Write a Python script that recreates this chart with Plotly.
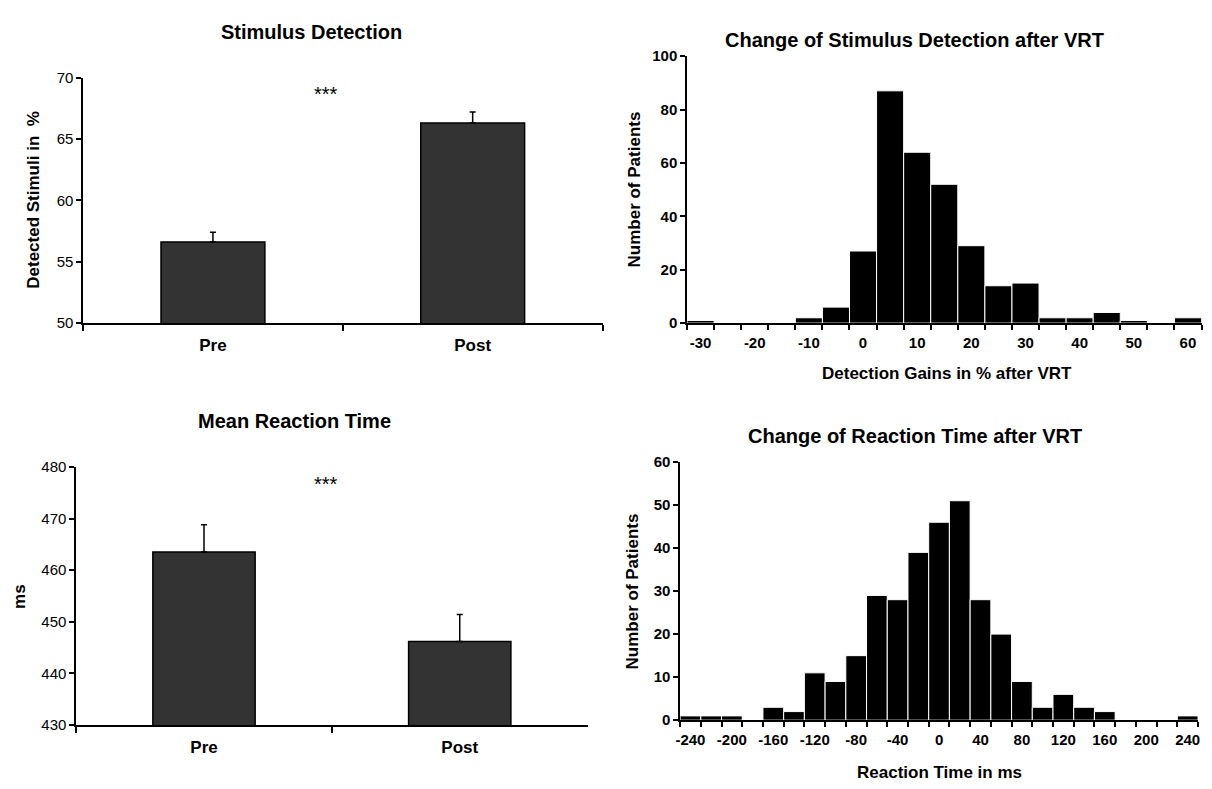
import plotly.graph_objects as go

# page body has an 8px default margin; the figure sits inside it
PAD = 8
W, H = 1212 - 2 * PAD, 789 - 2 * PAD

# ---- data ----
groups = ["Pre", "Post"]
detect_mean = [56.6, 66.3]
detect_err = [0.8, 0.9]
rt_mean = [463.5, 446.2]
rt_err = [5.3, 5.2]

gain_bins = [-30, -25, -20, -15, -10, -5, 0, 5, 10, 15, 20, 25, 30, 35, 40, 45, 50, 55, 60]
gain_counts = [1, 0, 0, 0, 2, 6, 27, 87, 64, 52, 29, 14, 15, 2, 2, 4, 1, 0, 2]
gain_ticks = [-30, -20, -10, 0, 10, 20, 30, 40, 50, 60]

rt_bins = [-240, -220, -200, -180, -160, -140, -120, -100, -80, -60, -40, -20, 0,
           20, 40, 60, 80, 100, 120, 140, 160, 180, 200, 220, 240]
rt_counts = [1, 1, 1, 0, 3, 2, 11, 9, 15, 29, 28, 39, 46, 51, 28, 20, 9, 3, 6, 3, 2, 0, 0, 0, 1]
rt_ticks = [-240, -200, -160, -120, -80, -40, 0, 40, 80, 120, 160, 200, 240]

FONT = "Liberation Sans, Arial, sans-serif"


def fx(p):
    return min(max((p - PAD) / W, 0.0), 1.0)


def fy(p):
    return min(max(1 - (p - PAD) / H, 0.0), 1.0)


fig = go.Figure()

fig.add_trace(go.Bar(
    x=groups, y=detect_mean, width=0.4,
    marker=dict(color="#333333", line=dict(color="black", width=1.5)),
    error_y=dict(type="data", symmetric=False, array=detect_err, arrayminus=[0, 0],
                 color="black", thickness=1.5, width=3),
    xaxis="x", yaxis="y", showlegend=False))

fig.add_trace(go.Bar(
    x=groups, y=rt_mean, width=0.4,
    marker=dict(color="#333333", line=dict(color="black", width=1.5)),
    error_y=dict(type="data", symmetric=False, array=rt_err, arrayminus=[0, 0],
                 color="black", thickness=1.5, width=3),
    xaxis="x2", yaxis="y2", showlegend=False))

fig.add_trace(go.Bar(
    x=gain_bins, y=gain_counts, width=5,
    marker=dict(color="black", line=dict(color="white", width=1)),
    xaxis="x3", yaxis="y3", showlegend=False))

fig.add_trace(go.Bar(
    x=rt_bins, y=rt_counts, width=20,
    marker=dict(color="black", line=dict(color="white", width=1)),
    xaxis="x4", yaxis="y4", showlegend=False))

axis_common = dict(showgrid=False, zeroline=False, showline=True, linecolor="black",
                   linewidth=1.5, ticks="outside", tickcolor="black", tickwidth=1.5)

reg_tick = dict(family=FONT, size=15, color="black")
bold_tick = dict(family=FONT, size=15, color="black", weight="bold")
bold_cat = dict(family=FONT, size=17, color="black", weight="bold")

fig.update_layout(
    width=W, height=H,
    margin=dict(l=0, r=0, t=0, b=0),
    paper_bgcolor="white", plot_bgcolor="white",
    barmode="overlay",
    font=dict(family=FONT, color="black"),
    xaxis=dict(domain=[fx(78.5), fx(601)], anchor="y", type="category",
               range=[-0.5, 1.5], tickson="boundaries", ticklen=6,
               tickfont=bold_cat, ticklabelstandoff=6, **axis_common),
    yaxis=dict(domain=[fy(321), fy(70)], anchor="x", range=[50, 70], dtick=5,
               tick0=50, ticklen=5, tickfont=reg_tick, **axis_common),
    xaxis2=dict(domain=[fx(71.5), fx(586)], anchor="y2", type="category",
                range=[-0.5, 1.5], tickson="boundaries", ticklen=6,
                tickfont=bold_cat, ticklabelstandoff=6, **axis_common),
    yaxis2=dict(domain=[fy(732), fy(468)], anchor="x2", range=[430, 480], dtick=10,
                tick0=430, ticklen=5, tickfont=reg_tick, **axis_common),
    xaxis3=dict(domain=[fx(686), fx(1203.5)], anchor="y3", range=[-32.5, 62.5],
                tickmode="array", tickvals=gain_ticks, ticktext=[str(v) for v in gain_ticks],
                ticklen=5, tickfont=bold_tick,
                minor=dict(tickmode="linear", tick0=-32.5, dtick=5, ticks="outside",
                           ticklen=5, tickcolor="black", tickwidth=1.5),
                **{**axis_common, "tickcolor": "rgba(0,0,0,0)"}),
    yaxis3=dict(domain=[fy(321), fy(48)], anchor="x3", range=[0, 100], dtick=20,
                ticklen=5, tickfont=bold_tick, **axis_common),
    xaxis4=dict(domain=[fx(679), fx(1200)], anchor="y4", range=[-250, 250],
                tickmode="array", tickvals=rt_ticks, ticktext=[str(v) for v in rt_ticks],
                ticklen=5, tickfont=bold_tick,
                minor=dict(tickmode="linear", tick0=-250, dtick=20, ticks="outside",
                           ticklen=5, tickcolor="black", tickwidth=1.5),
                **{**axis_common, "tickcolor": "rgba(0,0,0,0)"}),
    yaxis4=dict(domain=[fy(727), fy(463)], anchor="x4", range=[0, 60], dtick=10,
                ticklen=5, tickfont=bold_tick, **axis_common),
)

TITLE = dict(family=FONT, size=20, color="black", weight="bold")
AXT = dict(family=FONT, size=17, color="black", weight="bold")
STAR = dict(family=FONT, size=20, color="black")


def ann(text, x, y, font, angle=0):
    fig.add_annotation(text=text, x=fx(x), y=fy(y), xref="paper", yref="paper",
                       xanchor="center", yanchor="middle", showarrow=False,
                       font=font, textangle=angle)


ann("Stimulus Detection", 308, 23, TITLE)
ann("Mean Reaction Time", 291, 421, TITLE)
ann("Change of Stimulus Detection after VRT", 915, 32, TITLE)
ann("Change of Reaction Time after VRT", 915, 436, TITLE)

ann("Detected Stimuli in  %", 29, 195, AXT, -90)
ann("ms", 15, 600, AXT, -90)
ann("Number of Patients", 633, 184, AXT, -90)
ann("Number of Patients", 631, 595, AXT, -90)
ann("Detection Gains in % after VRT", 947, 373, AXT)
ann("Reaction Time in ms", 940, 780, AXT)

ann("***", 323, 87, STAR)
ann("***", 323, 486, STAR)

fig.write_html("out.html")
